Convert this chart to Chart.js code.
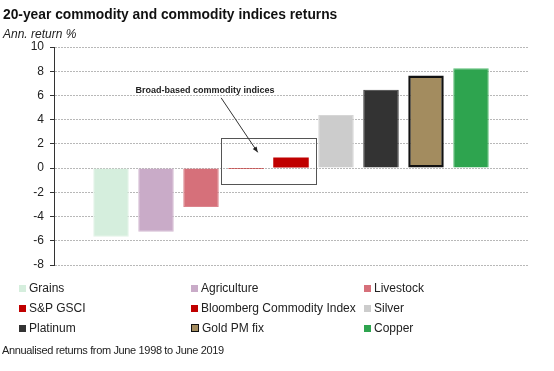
<!DOCTYPE html>
<html><head><meta charset="utf-8">
<script src="https://cdn.jsdelivr.net/npm/chart.js@4"></script>
<style>
body{margin:0;background:#fff;}
#wrap{position:relative;width:554px;height:371px;font-family:"Liberation Sans",Arial,sans-serif;color:#111;overflow:hidden;}
canvas{position:absolute;left:0;top:0;}
.title{position:absolute;left:3px;top:7px;font-weight:bold;font-size:13.8px;line-height:15px;white-space:nowrap;}
.sub{position:absolute;left:3px;top:27px;font-style:italic;font-size:12px;line-height:14px;white-space:nowrap;color:#222;}
.li{position:absolute;white-space:nowrap;font-size:12px;line-height:14px;color:#222;}
.sw{display:inline-block;width:7px;height:7px;margin-right:3px;box-sizing:border-box;vertical-align:0px;}
.foot{position:absolute;left:2px;top:344px;font-size:11px;letter-spacing:-0.35px;line-height:13px;white-space:nowrap;color:#222;}
</style></head>
<body>
<div id="wrap">
<canvas id="c" width="554" height="371"></canvas>
<div class="title">20-year commodity and commodity indices returns</div>
<div class="sub">Ann. return %</div>
<div id="legend"></div>
<div class="foot">Annualised returns from June 1998 to June 2019</div>
</div>
<script>
const categories = [''];
const seriesNames = ['Grains','Agriculture','Livestock','S&P GSCI','Bloomberg Commodity Index','Silver','Platinum','Gold PM fix','Copper'];
const seriesValues = [-5.67, -5.26, -3.22, -0.08, 0.87, 4.39, 6.47, 7.64, 8.25];
const yTicks = [-8,-6,-4,-2,0,2,4,6,8,10];

const colors = ['#d5eedd','#c9abc8','#d6707a','#c00000','#c00000','#cccccc','#333333','#a38c5f','#2ea44f'];
const borderColors = ['#e2f3e7','#d5bcd3','#dc848d','#c00000','#c00000','#d6d6d6','#3a3a3a','#111111','#5cbf78'];
const borderWidths = [1,1,1,0,0,1,1,2.5,1];

const datasets = seriesNames.map((n,i)=>({
  label:n,
  data:[seriesValues[i]],
  backgroundColor:colors[i],
  borderColor:borderColors[i],
  borderWidth:borderWidths[i],
  borderSkipped:(i===7)?false:'start',
  categoryPercentage:0.8544,
  barPercentage:0.789
}));

const annot = {
  text:'Broad-based commodity indices',
  textY:6.4,
  arrowFromY:5.8,
  arrowToY:1.3,
  boxTop:2.5,
  boxBottom:-1.3
};

const annotationPlugin = {
  id:'annot',
  afterDatasetsDraw(chart){
    const ctx = chart.ctx, y = chart.scales.y;
    const liv = chart.getDatasetMeta(2).data[0];
    const sp = chart.getDatasetMeta(3).data[0];
    const bb = chart.getDatasetMeta(4).data[0];
    const w = sp.width;
    const left = sp.x - w/2 - w*0.2;
    const right = bb.x + w/2 + w*0.2;
    const top = y.getPixelForValue(annot.boxTop);
    const bot = y.getPixelForValue(annot.boxBottom);
    ctx.save();
    ctx.strokeStyle = '#555';
    ctx.lineWidth = 1;
    ctx.strokeRect(Math.round(left)+0.5, Math.round(top)+0.5, Math.round(right-left), Math.round(bot-top));
    ctx.font = 'bold 9px "Liberation Sans", Arial, sans-serif';
    ctx.fillStyle = '#222';
    ctx.textAlign = 'center';
    ctx.textBaseline = 'middle';
    ctx.fillText(annot.text, liv.x + 4, y.getPixelForValue(annot.textY));
    const x1 = left, y1 = y.getPixelForValue(annot.arrowFromY);
    const x2 = sp.x + w/2 - 6, y2 = y.getPixelForValue(annot.arrowToY);
    ctx.strokeStyle = '#333';
    ctx.beginPath(); ctx.moveTo(x1,y1); ctx.lineTo(x2,y2); ctx.stroke();
    const ang = Math.atan2(y2-y1, x2-x1), L = 6;
    ctx.fillStyle = '#222';
    ctx.beginPath();
    ctx.moveTo(x2,y2);
    ctx.lineTo(x2 - L*Math.cos(ang-0.4), y2 - L*Math.sin(ang-0.4));
    ctx.lineTo(x2 - L*Math.cos(ang+0.4), y2 - L*Math.sin(ang+0.4));
    ctx.closePath(); ctx.fill();
    ctx.restore();
  }
};

const chart = new Chart(document.getElementById('c'), {
  type:'bar',
  data:{labels:categories, datasets},
  options:{
    responsive:false,
    animation:false,
    layout:{padding:{left:0,right:26,top:47,bottom:106}},
    plugins:{legend:{display:false},tooltip:{enabled:false}},
    scales:{
      x:{display:false},
      y:{
        min:-8,max:10,
        afterFit(s){ s.width = 54; },
        afterBuildTicks(s){ s.ticks = yTicks.map(v=>({value:v})); },
        ticks:{padding:6,color:'#222',font:{size:12,family:'"Liberation Sans", Arial, sans-serif'}},
        grid:{color:'#b8b8b8',lineWidth:1,tickLength:4,tickColor:'#333',drawTicks:true},
        border:{display:true,color:'#333',width:1,dash:[2,1]}
      }
    }
  },
  plugins:[annotationPlugin]
});

const cols = [19,191,364];
const lg = document.getElementById('legend');
seriesNames.forEach((n,i)=>{
  const d = document.createElement('div');
  d.className='li';
  d.style.left = cols[i%3]+'px';
  d.style.top = (281 + 20*Math.floor(i/3))+'px';
  const sw = document.createElement('span');
  sw.className='sw';
  sw.style.background = colors[i];
  if (i===7) { sw.style.border='1.5px solid #111'; sw.style.width='8px'; sw.style.height='8px'; }
  d.appendChild(sw);
  d.appendChild(document.createTextNode(n));
  lg.appendChild(d);
});
</script>
</body></html>
